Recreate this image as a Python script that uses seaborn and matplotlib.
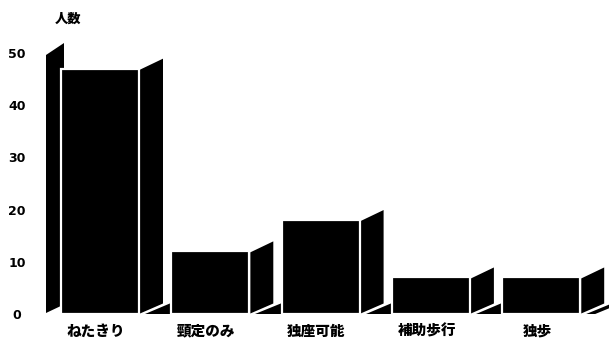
import matplotlib
matplotlib.use("Agg")
import matplotlib.pyplot as plt
import matplotlib.transforms as mtransforms
from matplotlib.patches import Polygon
import seaborn as sns

# Motor development stage vs. number of children
categories = ["ねたきり", "頸定のみ", "独座可能", "補助歩行", "独歩"]
counts = [47, 12, 18, 7, 7]
y_ticks = [0, 10, 20, 30, 40, 50]
y_label = "人数"

sns.set_theme(style="white")
plt.rcParams["font.family"] = ["Noto Sans CJK JP", "DejaVu Sans"]

W, H = 609, 344
fig = plt.figure(figsize=(W / 100, H / 100), dpi=100)

# axes frame expressed in pixels (left, right, baseline, top)
left_px, right_px, base_px, top_px = 40, 609, 314, 32
ax = fig.add_axes([left_px / W, (H - base_px) / H,
                   (right_px - left_px) / W, (base_px - top_px) / H])

pitch = 110.3      # pixels per category step
ppu = 5.22         # pixels per count
first_px = 100     # pixel position of first category


def px_x(p):
    return p / pitch


def px_y(p):
    return p / ppu


# front faces of the bars
sns.barplot(x=categories, y=counts, color="black", saturation=1,
            width=px_x(78), edgecolor="white", linewidth=1.6,
            ax=ax, zorder=4)

ax.set_xlim((left_px - first_px) / pitch, (right_px - first_px) / pitch)
ax.set_ylim(0, (base_px - top_px) / ppu)

bars = sorted(ax.patches, key=lambda r: r.get_x())

# back wall on the value axis
wl, wr = (46 - first_px) / pitch, (64 - first_px) / pitch
wall_top = y_ticks[-1]
ax.add_patch(Polygon([(wl, px_y(1)), (wl, wall_top - px_y(2)),
                      (wr, wall_top + px_y(10)), (wr, px_y(9.5))],
                     closed=True, facecolor="black", edgecolor="none",
                     zorder=1, clip_on=False))

side_w = px_x(23)
for i, bar in enumerate(bars):
    b = bar.get_x() + bar.get_width()
    h = bar.get_height()
    s0 = b + px_x(1)
    # right-hand side face
    ax.add_patch(Polygon([(s0, px_y(0.5)), (s0, h - px_y(1)),
                          (s0 + side_w, h + px_y(10)), (s0 + side_w, px_y(10.5))],
                         closed=True, facecolor="black", edgecolor="none",
                         zorder=3, clip_on=False))
    # floor piece between this bar and the next one
    f0 = b + px_x(6)
    if i + 1 < len(bars):
        nxt = bars[i + 1].get_x()
        pts = [(f0, 0), (nxt, 0), (nxt, px_y(11.5))]
    else:
        f1 = b + px_x(34)
        pts = [(f0, 0), (f1, px_y(11.5)), (f1 + px_x(9), px_y(11.5)),
               (f0 + px_x(9), 0)]
    ax.add_patch(Polygon(pts, closed=True, facecolor="black",
                         edgecolor="none", zorder=2, clip_on=False))

# axes decoration
for sp in ax.spines.values():
    sp.set_visible(False)
ax.grid(False)
ax.set_xlabel("")
ax.set_ylabel("")

ax.set_yticks(y_ticks)
ax.set_yticklabels([str(v) for v in y_ticks], fontsize=9,
                   fontweight="bold", family=["DejaVu Sans"], ha="center")
ax.tick_params(axis="y", length=0, pad=16.6, colors="black")

ax.set_xticks(range(len(categories)))
ax.set_xticklabels(categories, fontsize=10.5, fontweight="heavy")
ax.tick_params(axis="x", length=0, pad=7, colors="black")
shift = mtransforms.ScaledTranslation(-4 / 100, 0, fig.dpi_scale_trans)
for lab in ax.get_xticklabels():
    lab.set_transform(lab.get_transform() + shift)

fig.text(68.5 / W, 1 - 19 / H, y_label, ha="center", va="center",
         fontsize=9.5, fontweight="heavy", color="black")

fig.savefig("out.png", dpi=100, facecolor="white")
